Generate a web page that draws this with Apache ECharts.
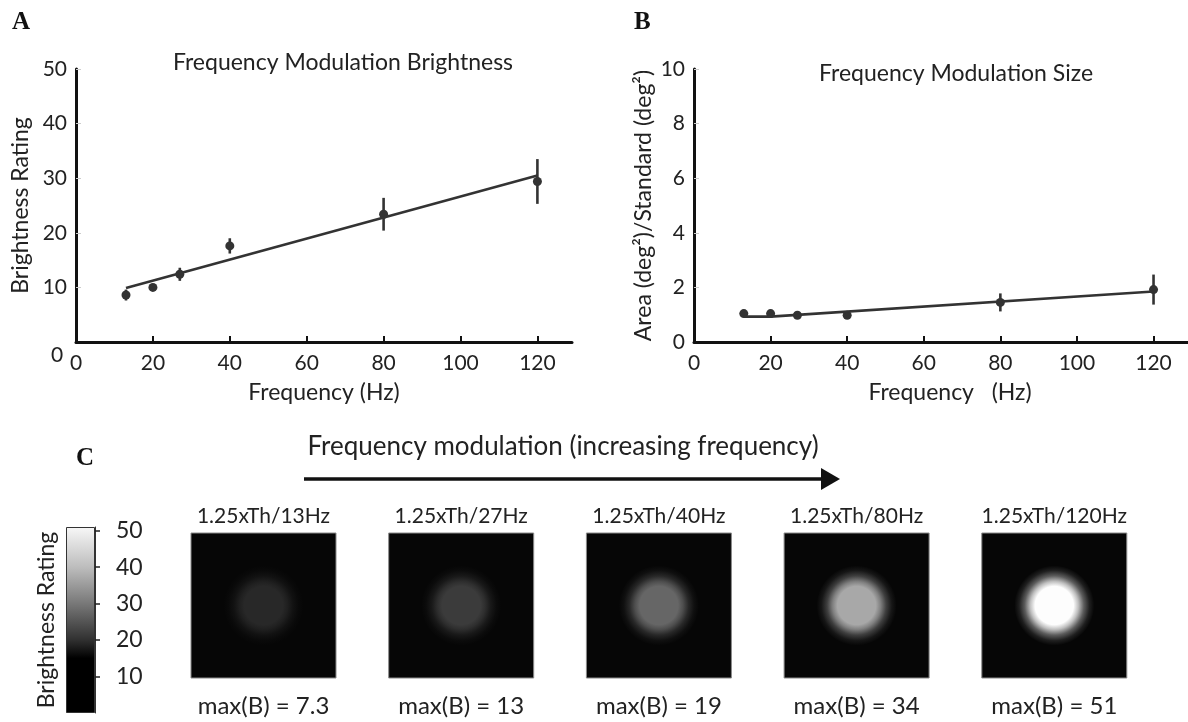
<!DOCTYPE html>
<html><head><meta charset="utf-8">
<script src="https://cdn.jsdelivr.net/npm/echarts@6/dist/echarts.min.js"></script>
<style>html,body{margin:0;padding:0;background:#fff}#c{width:1188px;height:722px}</style>
</head><body><div id="c"></div>
<script>
// ---------- data ----------
const freqs = [13, 20, 27, 40, 80, 120];
const brightMean = [8.6, 10.0, 12.4, 17.6, 23.4, 29.4];
const brightErr = [1.0, 0.5, 1.2, 1.4, 3.0, 4.1];
const brightFit = [[13, 9.9], [120, 30.5]];
const sizeMean = [1.04, 1.04, 0.98, 0.98, 1.45, 1.92];
const sizeErr = [0.05, 0.05, 0.05, 0.05, 0.33, 0.55];
const sizeFit = [[13, 0.93], [20, 0.93], [120, 1.85]];
const freqTicks = [0, 20, 40, 60, 80, 100, 120];
const brightTicks = [10, 20, 30, 40, 50];
const sizeTicks = [0, 2, 4, 6, 8, 10];
const imageFreqs = [13, 27, 40, 80, 120];
const imageMaxB = [7.3, 13, 19, 34, 51];
const imageGray = ['#282828', '#3b3b3b', '#666666', '#a8a8a8', '#fdfdfd'];
const colorbarTicks = [10, 20, 30, 40, 50];
const colorbarTop = 51;
const colormap = [[0, '#000000'], [15, '#000000'], [20, '#303030'], [30, '#787878'], [40, '#bdbdbd'], [50, '#f2f2f2'], [51, '#f7f7f7']];

// ---------- layout ----------
const FONT = 'Lato';
const INK = '#222';
const sqLeft0 = 191, sqStep = 197.7, sqTop = 533, sqSize = 145;

const chart = echarts.init(document.getElementById('c'), null, {renderer: 'canvas'});

function errBar(color) {
  return function (params, api) {
    const x = api.value(0);
    const p1 = api.coord([x, api.value(1)]);
    const p2 = api.coord([x, api.value(2)]);
    return {type: 'line', shape: {x1: p1[0], y1: p1[1], x2: p2[0], y2: p2[1]},
      style: {stroke: color, lineWidth: 2.6}};
  };
}

function valueXAxis(gi, name, namePad) {
  return {
    gridIndex: gi, type: 'value', min: 0, max: 129,
    axisLine: {onZero: false, lineStyle: {color: '#111', width: 3}},
    axisTick: {show: true, inside: true, length: 6, customValues: freqTicks.slice(1), lineStyle: {color: '#111', width: 2}},
    axisLabel: {customValues: freqTicks, fontSize: 21, fontFamily: FONT, color: INK, margin: 11},
    splitLine: {show: false},
    name: name, nameLocation: 'middle', nameGap: 39,
    nameTextStyle: {fontSize: 23, fontFamily: FONT, color: INK, padding: namePad}
  };
}

const grids = [
  {left: 76, top: 69, width: 496, height: 273},
  {left: 694, top: 69, width: 494, height: 273},
  {left: 66, top: 527, width: 29, height: 186}
];
const xAxes = [valueXAxis(0, 'Frequency (Hz)', [0, 0, 0, 0]), valueXAxis(1, 'Frequency   (Hz)', [0, 0, 0, 18])];
const yAxes = [
  {gridIndex: 0, type: 'value', min: 0, max: 50, interval: 10,
   axisLine: {onZero: false, lineStyle: {color: '#111', width: 3}},
   axisTick: {show: true, inside: true, length: 5, customValues: brightTicks, lineStyle: {color: '#ccc', width: 1}},
   axisLabel: {customValues: brightTicks, fontSize: 21, fontFamily: FONT, color: INK, margin: 9},
   splitLine: {show: false},
   name: 'Brightness Rating', nameLocation: 'middle', nameGap: 44,
   nameTextStyle: {fontSize: 23, fontFamily: FONT, color: INK}},
  {gridIndex: 1, type: 'value', min: 0, max: 10, interval: 2,
   axisLine: {onZero: false, lineStyle: {color: '#111', width: 3}},
   axisTick: {show: true, inside: true, length: 5, customValues: sizeTicks.slice(1), lineStyle: {color: '#ccc', width: 1}},
   axisLabel: {customValues: sizeTicks, fontSize: 21, fontFamily: FONT, color: INK, margin: 9},
   splitLine: {show: false},
   name: 'Area (deg²)/Standard (deg²)', nameLocation: 'middle', nameGap: 39,
   nameTextStyle: {fontSize: 23, fontFamily: FONT, color: INK}}
];
// colorbar axes
xAxes.push({gridIndex: 2, type: 'category', data: ['B'], show: false});
yAxes.push({gridIndex: 2, type: 'value', min: 0, max: colorbarTop, position: 'right',
  axisLine: {show: true, onZero: false, lineStyle: {color: '#333', width: 1}},
  axisTick: {show: true, length: 5, customValues: colorbarTicks, lineStyle: {color: '#222', width: 1.5}},
  axisLabel: {customValues: colorbarTicks, fontSize: 23, fontFamily: FONT, color: INK, margin: 21},
  splitLine: {show: false}});
yAxes.push({gridIndex: 2, type: 'value', min: 0, max: colorbarTop, position: 'left',
  axisLine: {show: false}, axisTick: {show: false}, axisLabel: {show: false}, splitLine: {show: false},
  name: 'Brightness Rating', nameLocation: 'middle', nameGap: 8,
  nameTextStyle: {fontSize: 23, fontFamily: FONT, color: INK}});

const series = [
  {type: 'line', xAxisIndex: 0, yAxisIndex: 0, data: brightFit, showSymbol: false, silent: true,
   lineStyle: {color: '#333', width: 2.6}},
  {type: 'custom', xAxisIndex: 0, yAxisIndex: 0, renderItem: errBar('#333'),
   data: freqs.map((f, i) => [f, brightMean[i] - brightErr[i], brightMean[i] + brightErr[i]])},
  {type: 'scatter', xAxisIndex: 0, yAxisIndex: 0, symbolSize: 9, itemStyle: {color: '#333', opacity: 1},
   data: freqs.map((f, i) => [f, brightMean[i]])},
  {type: 'line', xAxisIndex: 1, yAxisIndex: 1, data: sizeFit, showSymbol: false, silent: true,
   lineStyle: {color: '#333', width: 2.6}},
  {type: 'custom', xAxisIndex: 1, yAxisIndex: 1, renderItem: errBar('#333'),
   data: freqs.map((f, i) => [f, sizeMean[i] - sizeErr[i], sizeMean[i] + sizeErr[i]])},
  {type: 'scatter', xAxisIndex: 1, yAxisIndex: 1, symbolSize: 9, itemStyle: {color: '#333', opacity: 1},
   data: freqs.map((f, i) => [f, sizeMean[i]])},
  {type: 'bar', xAxisIndex: 2, yAxisIndex: 2, barWidth: '100%', data: [colorbarTop], silent: true,
   itemStyle: {borderColor: '#333', borderWidth: 1,
     color: new echarts.graphic.LinearGradient(0, 1, 0, 0, colormap.map(s => ({offset: s[0] / colorbarTop, color: s[1]})))}}
];

const graphics = [];
const txt = (x, y, text, font, extra) => Object.assign({type: 'text', x: x, y: y, style: {text: text, font: font, fill: INK,
  align: 'center', verticalAlign: 'middle', textAlign: 'center', textVerticalAlign: 'middle'}}, extra || {});
// panel letters
graphics.push({type: 'text', x: 12, y: 10, style: {text: 'A', font: 'bold 25px "Liberation Serif"', fill: '#111'}});
graphics.push({type: 'text', x: 634, y: 10, style: {text: 'B', font: 'bold 25px "Liberation Serif"', fill: '#111'}});
graphics.push({type: 'text', x: 76, y: 446, style: {text: 'C', font: 'bold 25px "Liberation Serif"', fill: '#111'}});
// titles
graphics.push(txt(343, 63, 'Frequency Modulation Brightness', '23px ' + FONT));
graphics.push(txt(956, 74, 'Frequency Modulation Size', '23px ' + FONT));
// y "0" of panel A (offset label)
graphics.push(txt(57, 355, '0', '21px ' + FONT));
// panel C heading and arrow
graphics.push(txt(563, 447, 'Frequency modulation (increasing frequency)', '26px ' + FONT));
graphics.push({type: 'line', shape: {x1: 304, y1: 479, x2: 824, y2: 479}, style: {stroke: '#111', lineWidth: 3.5}});
graphics.push({type: 'polygon', shape: {points: [[821, 468], [840, 479], [821, 490]]}, style: {fill: '#111'}});

// image squares
imageFreqs.forEach((f, i) => {
  const gi = 3 + i;
  const left = sqLeft0 + i * sqStep;
  grids.push({left: left, top: sqTop, width: sqSize, height: sqSize, show: true, backgroundColor: '#060606', borderColor: '#8a8a8a', borderWidth: 1});
  xAxes.push({gridIndex: gi, type: 'value', min: -1, max: 1, show: false});
  yAxes.push({gridIndex: gi, type: 'value', min: -1, max: 1, show: false});
  const c = echarts.color.parse(imageGray[i]);
  const rgba = a => 'rgba(' + c[0] + ',' + c[1] + ',' + c[2] + ',' + a + ')';
  series.push({type: 'scatter', xAxisIndex: gi, yAxisIndex: yAxes.length - 1, silent: true,
    symbolSize: 80, data: [[0, 0]],
    itemStyle: {opacity: 1, color: new echarts.graphic.RadialGradient(0.5, 0.5, 0.5, [
      {offset: 0, color: rgba(1)}, {offset: 0.48, color: rgba(1)}, {offset: 0.6, color: rgba(0.75)},
      {offset: 0.74, color: rgba(0.35)}, {offset: 0.88, color: rgba(0.1)}, {offset: 1, color: rgba(0)}])}});
  const cx = left + sqSize / 2;
  graphics.push(txt(cx, 516, '1.25xTh/' + f + 'Hz', '21px ' + FONT));
  graphics.push(txt(cx, 706, 'max(B) = ' + imageMaxB[i], '24px ' + FONT));
});

chart.setOption({
  backgroundColor: '#fff',
  animation: false,
  grid: grids,
  xAxis: xAxes,
  yAxis: yAxes,
  series: series,
  graphic: graphics
});
</script>
</body></html>
